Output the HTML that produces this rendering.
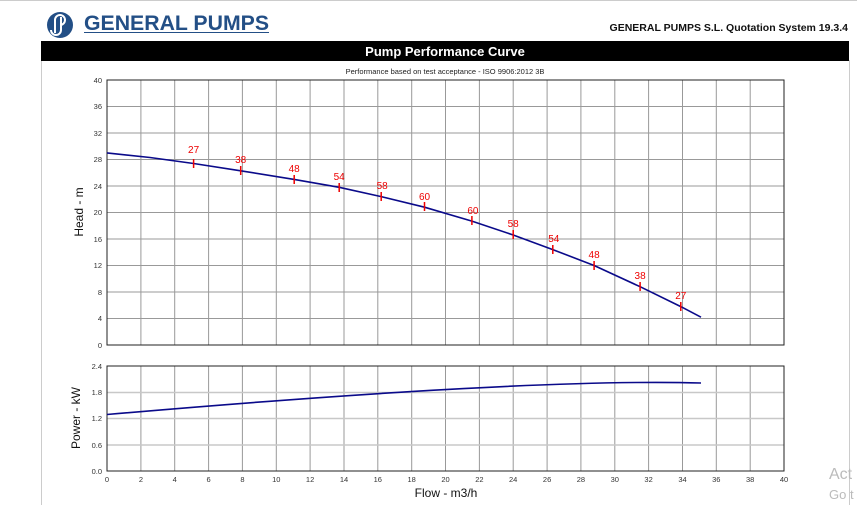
<!DOCTYPE html>
<html><head><style>
html,body{margin:0;padding:0;background:#fff;}
body{width:857px;height:505px;overflow:hidden;position:relative;font-family:"Liberation Sans",sans-serif;}
</style></head><body>
<svg width="857" height="505" xmlns="http://www.w3.org/2000/svg" style="position:absolute;left:0;top:0;font-family:'Liberation Sans',sans-serif">
<line x1="0" y1="0.5" x2="857" y2="0.5" stroke="#ccc"/>
<line x1="849.5" y1="60" x2="849.5" y2="505" stroke="#ccc"/>
<line x1="41.5" y1="60" x2="41.5" y2="505" stroke="#ccc"/>
<circle cx="60" cy="25" r="13" fill="#234f86"/>
<path d="M55 33 V20 a5 5 0 0 1 10 0 a5 5 0 0 1 -5 5 M61 17 V30 a5 5 0 0 1 -10 0" fill="none" stroke="#fff" stroke-width="2"/>
<text x="84" y="30" font-size="21" font-weight="bold" fill="#234f86" textLength="185" lengthAdjust="spacingAndGlyphs">GENERAL PUMPS</text>
<line x1="84" y1="32.5" x2="269" y2="32.5" stroke="#234f86" stroke-width="1"/>
<text x="848" y="31" font-size="10.5" font-weight="bold" fill="#111" text-anchor="end">GENERAL PUMPS S.L. Quotation System 19.3.4</text>
<rect x="41" y="41" width="808" height="20" fill="#000"/>
<text x="445" y="56" font-size="13" font-weight="bold" fill="#fff" text-anchor="middle">Pump Performance Curve</text>
<text x="445" y="74" font-size="7.5" fill="#222" text-anchor="middle">Performance based on test acceptance - ISO 9906:2012 3B</text>
<g stroke-width="1">
<g stroke="#999">
<path d="M140.9 80V345M174.7 80V345M208.6 80V345M242.4 80V345M276.3 80V345M310.1 80V345M344 80V345M377.8 80V345M411.7 80V345M445.5 80V345M479.4 80V345M513.2 80V345M547.1 80V345M580.9 80V345M614.8 80V345M648.6 80V345M682.5 80V345M716.3 80V345M750.2 80V345"/>
<path d="M140.9 366V471M174.7 366V471M208.6 366V471M242.4 366V471M276.3 366V471M310.1 366V471M344 366V471M377.8 366V471M411.7 366V471M445.5 366V471M479.4 366V471M513.2 366V471M547.1 366V471M580.9 366V471M614.8 366V471M648.6 366V471M682.5 366V471M716.3 366V471M750.2 366V471"/>
<path d="M107 106.5H784M107 133H784M107 159.5H784M107 186H784M107 212.5H784M107 239H784M107 265.5H784M107 292H784M107 318.5H784"/>
<path d="M107 445H784M107 418.5H784M107 392.5H784" stroke="#c8c8c8" stroke-width="1.5"/>
</g>
<rect x="107" y="80" width="677" height="265" fill="none" stroke="#222"/>
<rect x="107" y="366" width="677" height="105" fill="none" stroke="#222"/>
</g>
<g font-size="7.5" fill="#333" text-anchor="end">
<text x="102" y="83">40</text><text x="102" y="109">36</text><text x="102" y="136">32</text><text x="102" y="162">28</text><text x="102" y="189">24</text><text x="102" y="215">20</text><text x="102" y="242">16</text><text x="102" y="268">12</text><text x="102" y="295">8</text><text x="102" y="321">4</text><text x="102" y="348">0</text>
<text x="102" y="369">2.4</text><text x="102" y="395">1.8</text><text x="102" y="421">1.2</text><text x="102" y="448">0.6</text><text x="102" y="474">0.0</text>
</g>
<g font-size="7.5" fill="#333" text-anchor="middle">
<text x="107" y="482">0</text><text x="140.9" y="482">2</text><text x="174.7" y="482">4</text><text x="208.6" y="482">6</text><text x="242.4" y="482">8</text><text x="276.3" y="482">10</text><text x="310.1" y="482">12</text><text x="344" y="482">14</text><text x="377.8" y="482">16</text><text x="411.7" y="482">18</text><text x="445.5" y="482">20</text><text x="479.4" y="482">22</text><text x="513.2" y="482">24</text><text x="547.1" y="482">26</text><text x="580.9" y="482">28</text><text x="614.8" y="482">30</text><text x="648.6" y="482">32</text><text x="682.5" y="482">34</text><text x="716.3" y="482">36</text><text x="750.2" y="482">38</text><text x="784" y="482">40</text>
</g>
<text x="446" y="497" font-size="12" fill="#111" text-anchor="middle">Flow - m3/h</text>
<text transform="translate(83,212) rotate(-90)" font-size="12" fill="#111" text-anchor="middle">Head - m</text>
<text transform="translate(80,418) rotate(-90)" font-size="12" fill="#111" text-anchor="middle">Power - kW</text>
<polyline fill="none" stroke="#0a0a8a" stroke-width="1.6" stroke-linejoin="round" points="107,152.9 150,157.5 193.6,163.5 240.7,170.8 294.2,179.4 339.2,187.3 381.2,196.6 424.5,207.2 471.9,221.1 513.2,235 552.8,249.6 594.1,265.5 640.1,286.7 680.8,306.6 701,317.2"/>
<path fill="none" stroke="#0a0a8a" stroke-width="1.6" d="M107,414.5 Q530,378 701,383"/>
<g stroke="#e00" stroke-width="1.5">
<path d="M193.6 159V168M240.7 166V175M294.2 175V184M339.2 183V192M381.2 192V201M424.5 202V211M471.9 216V225M513.2 230V239M552.8 245V254M594.1 261V270M640.1 282V291M680.8 302V311"/>
</g>
<g font-size="10" fill="#e00" text-anchor="middle">
<text x="193.6" y="153">27</text><text x="240.7" y="163">38</text><text x="294.2" y="172">48</text><text x="339.2" y="180">54</text><text x="382.2" y="189">58</text><text x="424.5" y="200">60</text><text x="472.9" y="214">60</text><text x="513.2" y="227">58</text><text x="553.8" y="242">54</text><text x="594.1" y="258">48</text><text x="640.1" y="279">38</text><text x="680.8" y="299">27</text>
</g>
<text x="829" y="479" font-size="16" fill="#bbb">Act</text>
<text x="829" y="499" font-size="13" fill="#bbb">Go t</text>
</svg>
</body></html>
